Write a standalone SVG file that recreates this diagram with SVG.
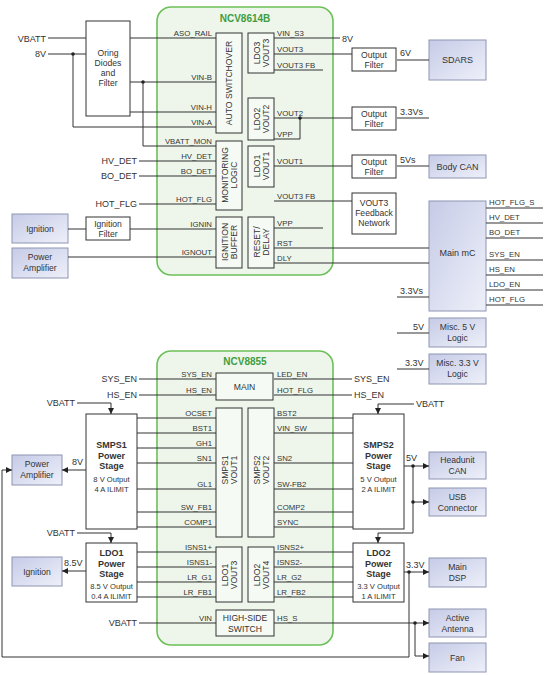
<svg xmlns="http://www.w3.org/2000/svg" width="557" height="675" viewBox="0 0 557 675">
<style>
text{font-family:"Liberation Sans",Arial,sans-serif;fill:#333}
.p{font-size:7.8px}
.o{font-size:9px}
.bx{font-size:8.6px}
.t{font-size:10px;font-weight:bold;fill:#3f9d3f}
.r{font-size:8.6px}
.bd{font-weight:bold;font-size:9px}
.sm{font-size:7.6px}
.chip{fill:#eef6ec;stroke:#6cc05a;stroke-width:1.6}
.blk{fill:#f6faf4;stroke:#333;stroke-width:1}
.wb{fill:#fff;stroke:#333;stroke-width:1}
.sh{fill:url(#sg);stroke:#8e95b2;stroke-width:1}
.ln{stroke:#333;stroke-width:1;fill:none}
.dot{fill:#222}
.e{text-anchor:end}
.m{text-anchor:middle}
</style>
<defs>
<linearGradient id="sg" x1="0" y1="0" x2="1" y2="1">
<stop offset="0" stop-color="#c6cbe7"/>
<stop offset="1" stop-color="#eef0f9"/>
</linearGradient>
<marker id="ar" viewBox="0 0 8 8" refX="8" refY="4" markerWidth="6" markerHeight="6" orient="auto" markerUnits="userSpaceOnUse">
<path d="M0,0 L8,4 L0,8 z" fill="#222"/>
</marker>
</defs>
<rect width="557" height="675" fill="#fff"/>

<!-- ================= TOP: NCV8614B ================= -->
<g id="ncv8614b">
<rect class="chip" x="157" y="7" width="176" height="268" rx="14"/>
<text class="t m" x="245" y="22">NCV8614B</text>
</g>
<g id="auto-switchover"><rect class="blk" x="216" y="33" width="26" height="100"/>
<text class="r m" transform="translate(232,83) rotate(-90)">AUTO SWITCHOVER</text></g>
<g id="ldo3"><rect class="blk" x="248" y="33" width="26" height="40"/>
<text class="r m" transform="translate(261,53) rotate(-90)"><tspan x="0" y="-1">LDO3</tspan><tspan x="0" y="8">VOUT3</tspan></text></g>
<g id="ldo2"><rect class="blk" x="248" y="98" width="26" height="42"/>
<text class="r m" transform="translate(261,119) rotate(-90)"><tspan x="0" y="-1">LDO2</tspan><tspan x="0" y="8">VOUT2</tspan></text></g>
<g id="monitoring"><rect class="blk" x="216" y="141" width="26" height="69"/>
<text class="r m" transform="translate(229,175) rotate(-90)"><tspan x="0" y="-1">MONITORING</tspan><tspan x="0" y="8">LOGIC</tspan></text></g>
<g id="ldo1"><rect class="blk" x="248" y="146" width="26" height="41"/>
<text class="r m" transform="translate(261,166) rotate(-90)"><tspan x="0" y="-1">LDO1</tspan><tspan x="0" y="8">VOUT1</tspan></text></g>
<g id="ignition-buffer"><rect class="blk" x="216" y="217" width="26" height="51"/>
<text class="r m" transform="translate(229,242) rotate(-90)"><tspan x="0" y="-1">IGNITION</tspan><tspan x="0" y="8">BUFFER</tspan></text></g>
<g id="reset-delay"><rect class="blk" x="248" y="217" width="26" height="51"/>
<text class="r m" transform="translate(261,242) rotate(-90)"><tspan x="0" y="-1">RESET/</tspan><tspan x="0" y="8">DELAY</tspan></text></g>

<g id="pins-top">
<text class="p e" x="212" y="35.5">ASO_RAIL</text>
<text class="p e" x="212" y="79.5">VIN-B</text>
<text class="p e" x="212" y="109.5">VIN-H</text>
<text class="p e" x="212" y="124.5">VIN-A</text>
<text class="p e" x="212" y="143.5">VBATT_MON</text>
<text class="p e" x="212" y="158.5">HV_DET</text>
<text class="p e" x="212" y="173.5">BO_DET</text>
<text class="p e" x="212" y="201.5">HOT_FLG</text>
<text class="p e" x="212" y="226.5">IGNIN</text>
<text class="p e" x="212" y="254.5">IGNOUT</text>
<text class="p" x="277" y="35.5">VIN_S3</text>
<text class="p" x="277" y="51.5">VOUT3</text>
<text class="p" x="277" y="67.5">VOUT3 FB</text>
<text class="p" x="277" y="115.5">VOUT2</text>
<text class="p" x="277" y="136.5">VPP</text>
<text class="p" x="277" y="163.5">VOUT1</text>
<text class="p" x="277" y="198.5">VOUT3 FB</text>
<text class="p" x="277" y="225.5">VPP</text>
<text class="p" x="277" y="245.5">RST</text>
<text class="p" x="277" y="260.5">DLY</text>
</g>

<g id="oring"><rect class="wb" x="86" y="21" width="44" height="95"/>
<text class="bx m" x="108" y="56">Oring</text><text class="bx m" x="108" y="66">Diodes</text>
<text class="bx m" x="108" y="76">and</text><text class="bx m" x="108" y="86">Filter</text></g>
<g id="ign-filter"><rect class="wb" x="86" y="217" width="44" height="23"/>
<text class="bx m" x="108" y="227">Ignition</text><text class="bx m" x="108" y="237">Filter</text></g>
<g id="ignition-top"><rect class="sh" x="12" y="214" width="56" height="29"/>
<text class="bx m" x="40" y="232">Ignition</text></g>
<g id="power-amp-top"><rect class="sh" x="12" y="248" width="56" height="30"/>
<text class="bx m" x="40" y="260">Power</text><text class="bx m" x="40" y="271">Amplifier</text></g>
<g id="filter1"><rect class="wb" x="352" y="48" width="44" height="23"/>
<text class="bx m" x="374" y="58">Output</text><text class="bx m" x="374" y="68">Filter</text></g>
<g id="filter2"><rect class="wb" x="352" y="107" width="44" height="23"/>
<text class="bx m" x="374" y="117">Output</text><text class="bx m" x="374" y="127">Filter</text></g>
<g id="filter3"><rect class="wb" x="352" y="155" width="44" height="23"/>
<text class="bx m" x="374" y="165">Output</text><text class="bx m" x="374" y="175">Filter</text></g>
<g id="fb-network"><rect class="wb" x="352" y="193" width="44" height="41"/>
<text class="bx m" x="374" y="206">VOUT3</text><text class="bx m" x="374" y="216">Feedback</text><text class="bx m" x="374" y="226">Network</text></g>
<g id="sdars"><rect class="sh" x="429" y="40" width="57" height="40"/>
<text class="o m" x="457.5" y="63">SDARS</text></g>
<g id="body-can"><rect class="sh" x="429" y="155" width="57" height="23"/>
<text class="o m" x="457.5" y="169.5">Body CAN</text></g>
<g id="main-mc"><rect class="sh" x="429" y="201" width="57" height="110"/>
<text class="o m" x="457.5" y="256">Main mC</text></g>
<g id="misc5"><rect class="sh" x="429" y="318" width="57" height="29"/>
<text class="bx m" x="457.5" y="330">Misc. 5 V</text><text class="bx m" x="457.5" y="341">Logic</text></g>
<g id="misc33"><rect class="sh" x="429" y="354" width="57" height="30"/>
<text class="bx m" x="457.5" y="366">Misc. 3.3 V</text><text class="bx m" x="457.5" y="377">Logic</text></g>

<g id="labels-top">
<text class="o e" x="46" y="42">VBATT</text>
<text class="o e" x="46" y="57">8V</text>
<text class="o e" x="137" y="164">HV_DET</text>
<text class="o e" x="137" y="179">BO_DET</text>
<text class="o e" x="137" y="207">HOT_FLG</text>
<text class="o" x="342" y="42">8V</text>
<text class="o" x="400" y="56">6V</text>
<text class="o" x="400" y="115">3.3Vs</text>
<text class="o" x="400" y="163">5Vs</text>
<text class="o" x="400" y="294">3.3Vs</text>
<text class="o" x="413" y="330">5V</text>
<text class="o" x="405" y="366">3.3V</text>
<text class="p" x="489" y="205">HOT_FLG_S</text>
<text class="p" x="489" y="220">HV_DET</text>
<text class="p" x="489" y="235">BO_DET</text>
<text class="p" x="489" y="257">SYS_EN</text>
<text class="p" x="489" y="272">HS_EN</text>
<text class="p" x="489" y="287">LDO_EN</text>
<text class="p" x="489" y="302">HOT_FLG</text>
</g>

<!-- ================= BOTTOM: NCV8855 ================= -->
<g id="ncv8855">
<rect class="chip" x="157" y="351" width="176" height="294" rx="14"/>
<text class="t m" x="245" y="365">NCV8855</text>
</g>
<g id="main"><rect class="blk" x="216" y="373" width="57" height="27"/>
<text class="r m" x="244.5" y="390">MAIN</text></g>
<g id="smps1-vout1"><rect class="blk" x="216" y="408" width="26" height="129"/>
<text class="r m" transform="translate(229,470) rotate(-90)"><tspan x="0" y="-1">SMPS1</tspan><tspan x="0" y="8">VOUT1</tspan></text></g>
<g id="smps2-vout2"><rect class="blk" x="248" y="408" width="26" height="129"/>
<text class="r m" transform="translate(261,470) rotate(-90)"><tspan x="0" y="-1">SMPS2</tspan><tspan x="0" y="8">VOUT2</tspan></text></g>
<g id="ldo1-vout3"><rect class="blk" x="216" y="547" width="26" height="55"/>
<text class="r m" transform="translate(229,575) rotate(-90)"><tspan x="0" y="-1">LDO1</tspan><tspan x="0" y="8">VOUT3</tspan></text></g>
<g id="ldo2-vout4"><rect class="blk" x="248" y="547" width="26" height="55"/>
<text class="r m" transform="translate(261,575) rotate(-90)"><tspan x="0" y="-1">LDO2</tspan><tspan x="0" y="8">VOUT4</tspan></text></g>
<g id="hs-switch"><rect class="blk" x="216" y="610" width="58" height="26"/>
<text class="r m" x="245" y="621">HIGH-SIDE</text><text class="r m" x="245" y="632">SWITCH</text></g>

<g id="pins-bottom">
<text class="p e" x="212" y="376.5">SYS_EN</text>
<text class="p e" x="212" y="392.5">HS_EN</text>
<text class="p e" x="212" y="415.5">OCSET</text>
<text class="p e" x="212" y="430.5">BST1</text>
<text class="p e" x="212" y="445.5">GH1</text>
<text class="p e" x="212" y="460.5">SN1</text>
<text class="p e" x="212" y="486.5">GL1</text>
<text class="p e" x="212" y="509.5">SW_FB1</text>
<text class="p e" x="212" y="524.5">COMP1</text>
<text class="p e" x="212" y="549.5">ISNS1+</text>
<text class="p e" x="212" y="564.5">ISNS1-</text>
<text class="p e" x="212" y="579.5">LR_G1</text>
<text class="p e" x="212" y="594.5">LR_FB1</text>
<text class="p e" x="212" y="620.5">VIN</text>
<text class="p" x="277" y="376.5">LED_EN</text>
<text class="p" x="277" y="392.5">HOT_FLG</text>
<text class="p" x="277" y="415.5">BST2</text>
<text class="p" x="277" y="430.5">VIN_SW</text>
<text class="p" x="277" y="460.5">SN2</text>
<text class="p" x="277" y="486.5">SW-FB2</text>
<text class="p" x="277" y="509.5">COMP2</text>
<text class="p" x="277" y="524.5">SYNC</text>
<text class="p" x="277" y="549.5">ISNS2+</text>
<text class="p" x="277" y="564.5">ISNS2-</text>
<text class="p" x="277" y="579.5">LR_G2</text>
<text class="p" x="277" y="594.5">LR_FB2</text>
<text class="p" x="277" y="620.5">HS_S</text>
</g>

<g id="smps1"><rect class="wb" x="86" y="414" width="51" height="115"/>
<text class="bd m" x="111.5" y="448">SMPS1</text><text class="bd m" x="111.5" y="458.5">Power</text><text class="bd m" x="111.5" y="469">Stage</text>
<text class="sm m" x="111.5" y="482">8 V Output</text><text class="sm m" x="111.5" y="492">4 A ILIMIT</text></g>
<g id="smps2"><rect class="wb" x="353" y="414" width="51" height="115"/>
<text class="bd m" x="378.5" y="448">SMPS2</text><text class="bd m" x="378.5" y="458.5">Power</text><text class="bd m" x="378.5" y="469">Stage</text>
<text class="sm m" x="378.5" y="482">5 V Output</text><text class="sm m" x="378.5" y="492">2 A ILIMIT</text></g>
<g id="ldo1-stage"><rect class="wb" x="86" y="543" width="51" height="59"/>
<text class="bd m" x="111.5" y="556">LDO1</text><text class="bd m" x="111.5" y="566.5">Power</text><text class="bd m" x="111.5" y="577">Stage</text>
<text class="sm m" x="111.5" y="589">8.5 V Output</text><text class="sm m" x="111.5" y="599">0.4 A ILIMIT</text></g>
<g id="ldo2-stage"><rect class="wb" x="353" y="543" width="51" height="59"/>
<text class="bd m" x="378.5" y="556">LDO2</text><text class="bd m" x="378.5" y="566.5">Power</text><text class="bd m" x="378.5" y="577">Stage</text>
<text class="sm m" x="378.5" y="589">3.3 V Output</text><text class="sm m" x="378.5" y="599">1 A ILIMIT</text></g>
<g id="power-amp-bottom"><rect class="sh" x="12" y="455" width="50" height="30"/>
<text class="bx m" x="37" y="467">Power</text><text class="bx m" x="37" y="478">Amplifier</text></g>
<g id="ignition-bottom"><rect class="sh" x="12" y="557" width="50" height="29"/>
<text class="bx m" x="37" y="574.5">Ignition</text></g>
<g id="headunit-can"><rect class="sh" x="429" y="452" width="57" height="27"/>
<text class="bx m" x="457.5" y="463">Headunit</text><text class="bx m" x="457.5" y="474">CAN</text></g>
<g id="usb"><rect class="sh" x="429" y="488" width="57" height="28"/>
<text class="bx m" x="457.5" y="499.5">USB</text><text class="bx m" x="457.5" y="510.5">Connector</text></g>
<g id="main-dsp"><rect class="sh" x="429" y="558" width="57" height="29"/>
<text class="bx m" x="457.5" y="570">Main</text><text class="bx m" x="457.5" y="581">DSP</text></g>
<g id="active-antenna"><rect class="sh" x="429" y="609" width="57" height="28"/>
<text class="bx m" x="457.5" y="620.5">Active</text><text class="bx m" x="457.5" y="631.5">Antenna</text></g>
<g id="fan"><rect class="sh" x="429" y="643" width="57" height="29"/>
<text class="bx m" x="457.5" y="660.5">Fan</text></g>

<g id="labels-bottom">
<text class="o e" x="137" y="382">SYS_EN</text>
<text class="o e" x="137" y="398">HS_EN</text>
<text class="o e" x="75" y="406">VBATT</text>
<text class="o e" x="75" y="536">VBATT</text>
<text class="o e" x="137" y="626">VBATT</text>
<text class="o" x="354" y="382">SYS_EN</text>
<text class="o" x="354" y="398">HS_EN</text>
<text class="o" x="416" y="407">VBATT</text>
<text class="o" x="72" y="465">8V</text>
<text class="o" x="64" y="566">8.5V</text>
<text class="o" x="406" y="461">5V</text>
<text class="o" x="406" y="568">3.3V</text>
</g>

<!-- ================= CONNECTORS ================= -->
<g id="connectors" class="ln">
<!-- top left -->
<path d="M48,38 H86 M48,54 H86 M73,54 V127 H216"/>
<path d="M130,38 H216 M130,82 H216 M143,82 V146 H216 M130,112 H216"/>
<path d="M139,161 H216 M139,176 H216 M139,204 H216"/>
<path d="M68,229 H86 M130,229 H216 M68,257 H216"/>
<!-- top right -->
<path d="M274,38 H340 M274,54 H352 M274,70 H323"/>
<path d="M274,118 H352 M300,118 V139 H274 M274,166 H352"/>
<path d="M397,60 H429 M397,118 H429 M397,166 H429"/>
<path d="M274,201 H352 M274,228 H323 M274,248 H429 M274,263 H429"/>
<path d="M486,208 H543 M486,223 H543 M486,238 H543 M486,260 H543 M486,275 H543 M486,290 H543 M486,305 H543"/>
<path d="M397,297 H429 M397,333 H429 M397,369 H429"/>
<!-- bottom left -->
<path d="M139,379 H216 M139,395 H216"/>
<path d="M137,418 H216 M137,433 H216 M137,448 H216 M137,463 H216 M137,489 H216 M137,512 H216 M137,527 H216"/>
<path d="M137,552 H216 M137,567 H216 M137,582 H216 M137,597 H216 M139,623 H216"/>
<path d="M77,403 H111 V414" marker-end="url(#ar)"/>
<path d="M77,533 H111 V543" marker-end="url(#ar)"/>
<path d="M86,470 H62" marker-end="url(#ar)"/>
<path d="M86,571 H62" marker-end="url(#ar)"/>
<!-- bottom right -->
<path d="M274,379 H352 M274,395 H352"/>
<path d="M274,418 H353 M274,433 H353 M274,463 H353 M274,489 H353 M274,512 H353 M274,527 H353"/>
<path d="M274,552 H353 M274,567 H353 M274,582 H353 M274,597 H353"/>
<path d="M414,404 H378 V414" marker-end="url(#ar)"/>
<path d="M404,466 H429" marker-end="url(#ar)"/>
<path d="M413,466 V502 H429" marker-end="url(#ar)"/>
<path d="M413,502 V533 H378 V543" marker-end="url(#ar)"/>
<path d="M404,572 H429" marker-end="url(#ar)"/>
<path d="M274,623 H429" marker-end="url(#ar)"/>
<path d="M415,623 V656 H429" marker-end="url(#ar)"/>
<path d="M409,572 V657 H2 V470 H12" marker-end="url(#ar)"/>
</g>
<g id="junctions">
<circle class="dot" cx="73" cy="54" r="1.8"/>
<circle class="dot" cx="143" cy="82" r="1.8"/>
<circle class="dot" cx="300" cy="118" r="1.8"/>
<circle class="dot" cx="413" cy="466" r="1.8"/>
<circle class="dot" cx="413" cy="502" r="1.8"/>
<circle class="dot" cx="409" cy="572" r="1.8"/>
<circle class="dot" cx="415" cy="623" r="1.8"/>
</g>
</svg>
